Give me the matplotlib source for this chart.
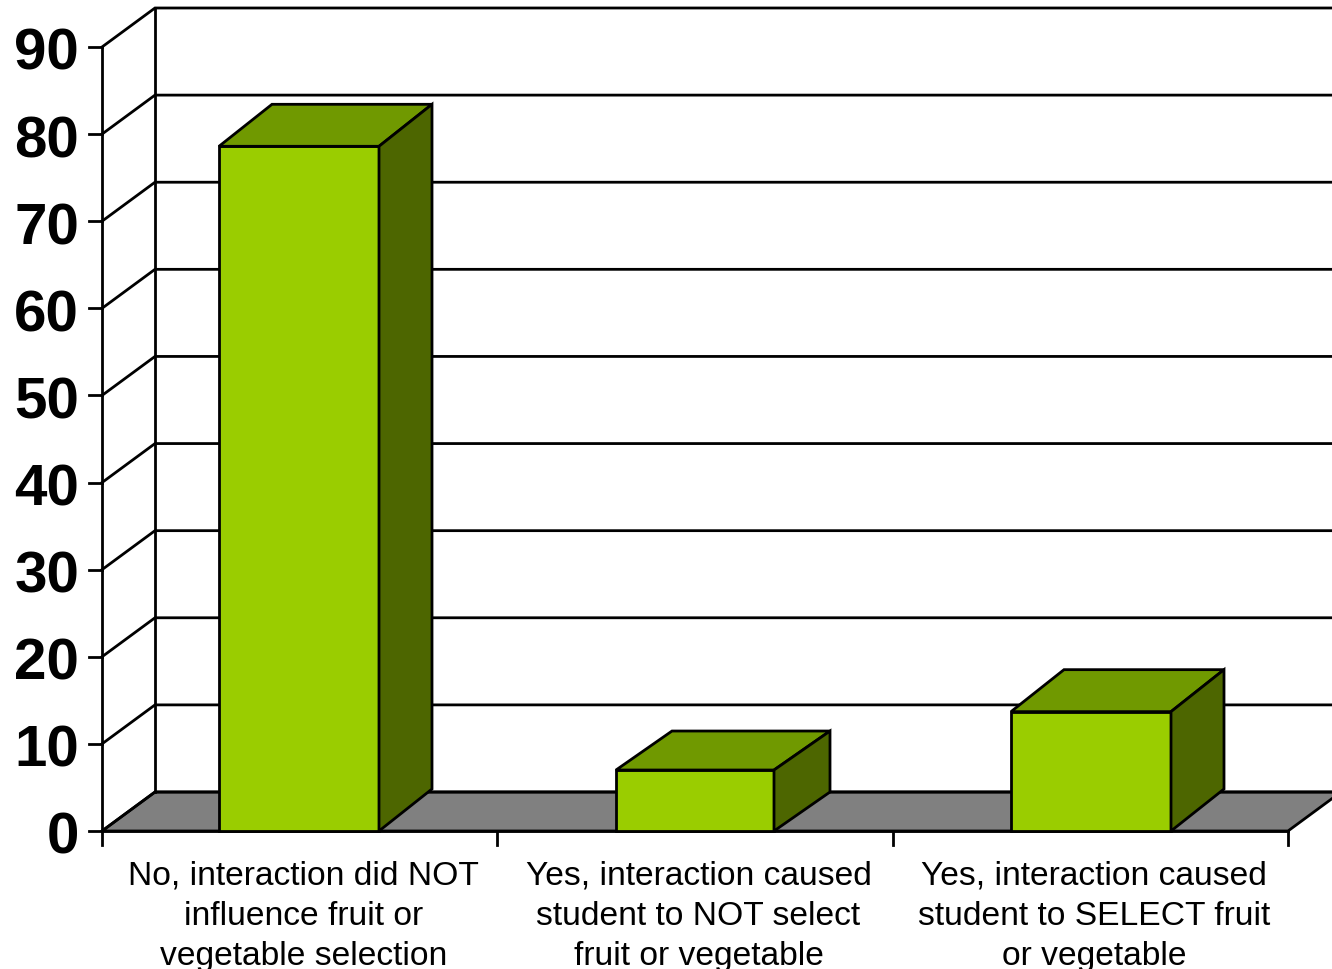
import matplotlib
matplotlib.use("Agg")
import matplotlib.pyplot as plt
from matplotlib.patches import Polygon

categories = ["No, interaction did NOT\ninfluence fruit or\nvegetable selection",
              "Yes, interaction caused\nstudent to NOT select\nfruit or vegetable",
              "Yes, interaction caused\nstudent to SELECT fruit\nor vegetable"]
values = [78.6, 7.0, 13.7]
y_ticks = [0, 10, 20, 30, 40, 50, 60, 70, 80, 90]

W, H = 1332, 970
plt.rcParams['font.family'] = ['Liberation Sans', 'DejaVu Sans']
fig = plt.figure(figsize=(W / 100, H / 100), dpi=100)
# front plane of the 3D box, in pixels
left, right, bottom, top = 102, 1288, 832, 48
ax = fig.add_axes([left / W, 1 - bottom / H, (right - left) / W, (bottom - top) / H])
ax.set_xlim(0, 3)
ax.set_ylim(0, 90)
ax.axis("off")

# pixel sizes to data units
px_x = (right - left) / 3
px_y = (bottom - top) / 90
dx = 53 / px_x
dy = 39 / px_y
lw = 2.0

# floor
ax.add_patch(Polygon([(0, 0), (3, 0), (3 + dx, dy), (dx, dy)], closed=True, fc="#808080",
                     ec="black", lw=lw, clip_on=False, zorder=1))

# back wall gridlines and side wall
for t in y_ticks:
    ax.plot([0, dx, 3 + dx], [t, t + dy, t + dy], color="black", lw=lw, clip_on=False, zorder=2,
            solid_joinstyle="miter")
    ax.plot([-13 / px_x, 0], [t, t], color="black", lw=lw, clip_on=False, zorder=2)
    ax.text(-23 / px_x, t - 1 / px_y, str(t), ha="right", va="center_baseline", fontsize=42,
            fontweight="bold", clip_on=False)
ax.plot([0, 0], [0, 90], color="black", lw=lw, clip_on=False, zorder=2)
ax.plot([dx, dx], [dy, 90 + dy], color="black", lw=lw, clip_on=False, zorder=2)

# category ticks below the floor
for i in range(4):
    ax.plot([i, i], [0, -14 / px_y], color="black", lw=lw, clip_on=False, zorder=2)
ax.plot([0, 3], [0, 0], color="black", lw=lw, clip_on=False, zorder=3)

# bars with top and side faces, the middle one is a touch narrower
bar_lefts = [219, 616, 1011]
bar_widths = [160, 158, 160]
bar_dx = [53, 56, 53]
bar_dy = [42, 39, 42]
for i, v in enumerate(values):
    x0 = (bar_lefts[i] - left) / px_x
    x1 = x0 + bar_widths[i] / px_x
    ddx = bar_dx[i] / px_x
    ddy = bar_dy[i] / px_y
    ax.bar(x0, v, width=x1 - x0, align="edge", color="#9ACD00", edgecolor="black", lw=lw, zorder=5,
           clip_on=False)
    ax.add_patch(Polygon([(x0, v), (x1, v), (x1 + ddx, v + ddy), (x0 + ddx, v + ddy)], closed=True,
                         fc="#709900", ec="black", lw=lw, zorder=5, joinstyle="miter"))
    ax.add_patch(Polygon([(x1, 0), (x1 + ddx, ddy), (x1 + ddx, v + ddy), (x1, v)], closed=True,
                         fc="#4D6600", ec="black", lw=lw, zorder=5, joinstyle="miter"))
    ax.text(i + 0.509, -29 / px_y, categories[i], ha="center", va="top", fontsize=24.2,
            linespacing=1.38, clip_on=False)

fig.savefig("out.png", dpi=100)
